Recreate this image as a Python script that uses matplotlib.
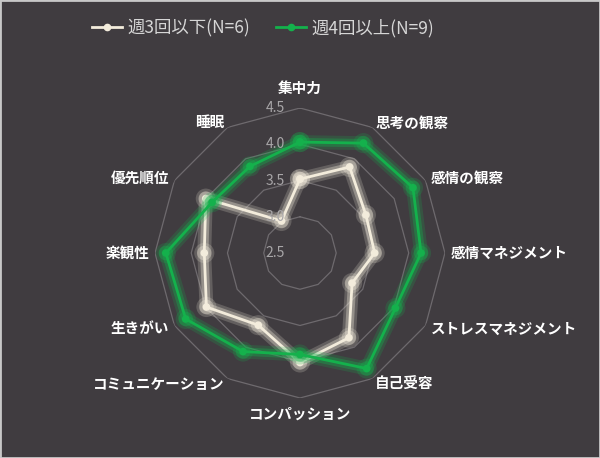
import numpy as np
import matplotlib
matplotlib.use("Agg")
import matplotlib.pyplot as plt
import matplotlib.patheffects as pe

plt.rcParams["font.family"] = ["Noto Sans CJK JP", "DejaVu Sans"]

CATEGORIES = ["集中力", "思考の観察", "感情の観察", "感情マネジメント", "ストレスマネジメント",
              "自己受容", "コンパッション", "コミュニケーション", "生きがい", "楽観性",
              "優先順位", "睡眠"]
LOW = [3.52, 3.87, 3.55, 3.53, 3.33, 3.85, 4.01, 3.65, 3.99, 3.82, 4.00, 3.01]
HIGH = [4.03, 4.25, 4.30, 4.17, 4.02, 4.34, 3.90, 4.07, 4.32, 4.35, 3.90, 3.88]
SERIES = ["週3回以下(N=6)", "週4回以上(N=9)"]
RTICKS = [2.5, 3.0, 3.5, 4.0, 4.5]

BG = "#403c40"
WHITE = "#f3ecdc"
GREEN = "#14b14c"

fig = plt.figure(figsize=(6, 4.58), dpi=100, facecolor=BG)
fig.patches.append(plt.Rectangle((0, 0), 1, 1, transform=fig.transFigure, fill=False,
                                 edgecolor="#c8c8c8", lw=2))
ax = fig.add_axes([0.2583, 0.131, 0.4833, 0.6332], projection="polar", facecolor="none")
ax.set_theta_zero_location("N")
ax.set_theta_direction(-1)
ax.set_ylim(RTICKS[0], RTICKS[-1])
ax.grid(False)
ax.spines["polar"].set_visible(False)
ax.set_xticks([]); ax.set_yticks([])

n = len(CATEGORIES)
theta = np.linspace(0, 2 * np.pi, n, endpoint=False)
closed = np.append(theta, theta[0])

# polygon grid rings
for r in RTICKS[1:]:
    ax.plot(closed, [r] * (n + 1), color="#6e6a6e", lw=0.9, zorder=1)
for r in RTICKS:
    ax.annotate(f"{r:.1f}", (0, r), xytext=(-25, 0), textcoords="offset pixels",
                ha="center", va="center", color="#a8a6a8", fontsize=10, zorder=5)

def glow(color):
    return [pe.Stroke(linewidth=10, foreground=color, alpha=0.2),
            pe.Stroke(linewidth=6, foreground=color, alpha=0.35), pe.Normal()]

for vals, color, label in [(LOW, WHITE, SERIES[0]), (HIGH, GREEN, SERIES[1])]:
    ax.plot(closed, vals + vals[:1], color=color, lw=2.0, marker="o", ms=4.5,
            label=label, zorder=3, path_effects=glow(color))

for t, name in zip(theta, CATEGORIES):
    s = np.sin(t)
    if abs(s) < 0.1:
        ha = "center"
        r = 4.78 if np.cos(t) > 0 else 4.71
    else:
        ha = "left" if s > 0 else "right"
        r = 4.58
    ax.text(t, r, name, ha=ha, va="center", color="white", fontsize=10.5,
            fontweight="bold")

leg = fig.legend(loc="center", bbox_to_anchor=(263 / 600, 1 - 28 / 458), ncol=2,
                 frameon=False, fontsize=12.5, labelcolor="#d6d6d6", handlelength=1.75,
                 columnspacing=1.5, handletextpad=0.3)
for h in leg.legend_handles:
    h.set_path_effects([])

fig.savefig("out.png", dpi=100, facecolor=BG)
